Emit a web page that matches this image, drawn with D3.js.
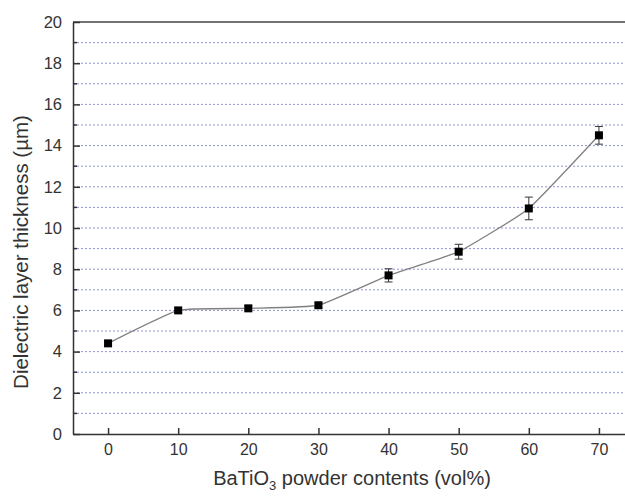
<!DOCTYPE html>
<html>
<head>
<meta charset="utf-8">
<script src="https://cdnjs.cloudflare.com/ajax/libs/d3/7.8.5/d3.min.js"></script>
<style>
  html, body { margin: 0; padding: 0; background: #fff; }
  svg { display: block; font-family: "Liberation Sans", Arial, sans-serif; }
</style>
</head>
<body>
<svg id="chart" width="625" height="496"></svg>
<script>
// BaTiO3 volume fraction (vol%)
const contents = [0, 10, 20, 30, 40, 50, 60, 70];
// Dielectric layer thickness (µm)
const thickness = [4.4, 6.0, 6.1, 6.25, 7.7, 8.85, 10.95, 14.5];
// Standard deviation (µm)
const errors = [0.12, 0.12, 0.12, 0.12, 0.32, 0.36, 0.55, 0.43];
const xTicks = [0, 10, 20, 30, 40, 50, 60, 70];
const yTicks = [0, 2, 4, 6, 8, 10, 12, 14, 16, 18, 20];
const yMinor = [1, 3, 5, 7, 9, 11, 13, 15, 17, 19];

(function () {
const svg = d3.select("#chart");
const mLeft = 73, mTop = 22, mBottom = 434, mRight = 634;
const font = "Liberation Sans, Arial, sans-serif";

const x = d3.scaleLinear().domain([-5, 75]).range([mLeft, mRight]);
const y = d3.scaleLinear().domain([0, 20]).range([mBottom, mTop]);

// dashed horizontal grid at every unit
svg.append("g").selectAll("line")
  .data(d3.range(1, 20))
  .join("line")
  .attr("x1", mLeft).attr("x2", mRight)
  .attr("y1", d => y(d)).attr("y2", d => y(d))
  .attr("stroke", "#8f94d8")
  .attr("stroke-width", 1)
  .attr("stroke-dasharray", "2,2");

// frame
svg.append("line").attr("x1", mLeft).attr("x2", mRight).attr("y1", mTop).attr("y2", mTop)
  .attr("stroke", "#444").attr("stroke-width", 1.5);

// y axis
const yAxis = svg.append("g").attr("transform", `translate(${mLeft},0)`)
  .call(d3.axisLeft(y).tickValues(yTicks).tickSizeInner(-7).tickSizeOuter(0).tickPadding(11));
yAxis.select(".domain").attr("stroke", "#333").attr("stroke-width", 1.5);
yAxis.selectAll(".tick line").attr("stroke", "#333").attr("stroke-width", 1.5);
yAxis.selectAll(".tick text").attr("font-size", 16.5).attr("fill", "#333")
  .attr("font-family", font);
svg.append("g").selectAll("line").data(yMinor).join("line")
  .attr("x1", mLeft).attr("x2", mLeft + 4)
  .attr("y1", d => y(d)).attr("y2", d => y(d))
  .attr("stroke", "#333").attr("stroke-width", 1.5);

// x axis
const xAxis = svg.append("g").attr("transform", `translate(0,${mBottom})`)
  .call(d3.axisBottom(x).tickValues(xTicks).tickSizeInner(-6).tickSizeOuter(0).tickPadding(10));
xAxis.select(".domain").attr("stroke", "#333").attr("stroke-width", 1.5);
xAxis.selectAll(".tick line").attr("stroke", "#333").attr("stroke-width", 1.5);
xAxis.selectAll(".tick text").attr("font-size", 16).attr("fill", "#333")
  .attr("font-family", font);

const data = contents.map((c, i) => ({ c, t: thickness[i], e: errors[i] }));

// connecting spline
svg.append("path")
  .datum(data)
  .attr("fill", "none")
  .attr("stroke", "#808080")
  .attr("stroke-width", 1.3)
  .attr("d", d3.line().x(d => x(d.c)).y(d => y(d.t)).curve(d3.curveCardinal.tension(0.6)));

// error bars
const eb = svg.append("g").attr("stroke", "#333").attr("stroke-width", 1);
eb.selectAll("line.v").data(data).join("line").attr("class", "v")
  .attr("x1", d => x(d.c)).attr("x2", d => x(d.c))
  .attr("y1", d => y(d.t - d.e)).attr("y2", d => y(d.t + d.e));
eb.selectAll("line.cap-top").data(data).join("line").attr("class", "cap-top")
  .attr("x1", d => x(d.c) - 4).attr("x2", d => x(d.c) + 4)
  .attr("y1", d => y(d.t + d.e)).attr("y2", d => y(d.t + d.e));
eb.selectAll("line.cap-bot").data(data).join("line").attr("class", "cap-bot")
  .attr("x1", d => x(d.c) - 4).attr("x2", d => x(d.c) + 4)
  .attr("y1", d => y(d.t - d.e)).attr("y2", d => y(d.t - d.e));

// square markers
svg.append("g").selectAll("rect").data(data).join("rect")
  .attr("x", d => x(d.c) - 4).attr("y", d => y(d.t) - 4)
  .attr("width", 8).attr("height", 8)
  .attr("fill", "#000");

// axis titles
const xt = svg.append("text")
  .attr("x", 352).attr("y", 485)
  .attr("text-anchor", "middle")
  .attr("font-size", 20).attr("fill", "#333");
xt.append("tspan").text("BaTiO");
xt.append("tspan").attr("font-size", 13).attr("dy", 5).text("3");
xt.append("tspan").attr("dy", -5).text(" powder contents (vol%)");

svg.append("text")
  .attr("transform", "translate(28,252) rotate(-90)")
  .attr("text-anchor", "middle")
  .attr("font-size", 20.5).attr("fill", "#333")
  .text("Dielectric layer thickness (\u00b5m)");
})();
</script>
</body>
</html>
